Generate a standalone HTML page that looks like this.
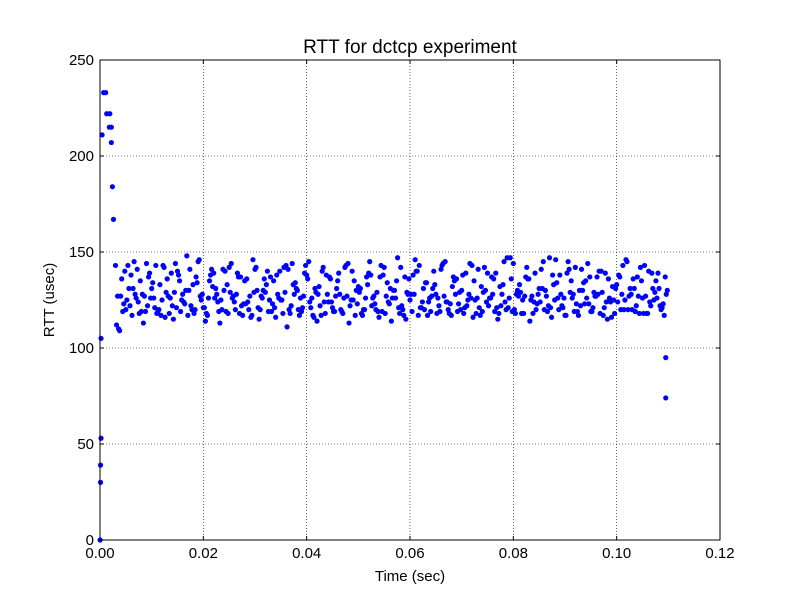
<!DOCTYPE html>
<html><head><meta charset="utf-8"><style>
html,body{margin:0;padding:0;background:#fff;}
svg text{font-family:"Liberation Sans","DejaVu Sans",sans-serif;}
</style></head><body>
<svg id="chart" width="800" height="600" viewBox="0 0 800 600" xmlns="http://www.w3.org/2000/svg">
<rect x="0" y="0" width="800" height="600" fill="#fff"/>
<g id="grid"></g>
<g id="points"></g>
<rect x="100" y="60" width="620" height="480" fill="none" stroke="#000" stroke-width="1"/>
<g id="ticks"></g>
<text x="410" y="53" font-size="19" text-anchor="middle">RTT for dctcp experiment</text>
<text x="410" y="581" font-size="15" text-anchor="middle">Time (sec)</text>
<text x="0" y="0" font-size="15" text-anchor="middle" transform="translate(54,300) rotate(-90)">RTT (usec)</text>
</svg>
<script>
const xTicks=[0,0.02,0.04,0.06,0.08,0.10,0.12];
const xTickLabels=["0.00","0.02","0.04","0.06","0.08","0.10","0.12"];
const yTicks=[0,50,100,150,200,250];
const yTickLabels=["0","50","100","150","200","250"];
const startTimes=[0.00002,0.0001,0.0001,0.0002,0.0002,0.0004,0.0007,0.0011,0.0013,0.0019,0.0018,0.0022,0.0022,0.0024,0.0026];
const startRtt=[0,30,39,53,105,211,233,233,222,222,215,215,207,184,167];
const endTimes=[0.1095,0.1095];
const endRtt=[95,74];
const baseTimes=[];
for(let i=0;i<107;i++){baseTimes.push(+(0.003+i*0.001).toFixed(4));}
const seriesOffsets=[0,0.0002,0.0004,0.0006,0.0008];
const rttA=[143,127,120,138,126,119,144,131,118,125,136,122,140,128,117,133,145,121,126,139,119,130,142,124,118,135,127,141,120,129,137,116,125,143,122,131,119,138,126,114,140,128,121,135,118,144,125,132,120,139,127,116,142,123,130,118,137,125,146,121,134,119,128,141,124,117,136,130,122,143,126,119,139,128,115,133,121,144,127,118,136,124,131,120,147,125,138,117,129,142,122,135,119,127,140,124,116,133,128,145,120,137,126,118,131,139,123];
const rttB=[112,136,125,117,141,128,122,134,119,143,127,115,138,124,130,118,146,121,135,126,113,140,129,120,137,123,116,142,127,133,119,138,125,111,144,130,121,136,117,128,142,124,119,139,126,113,135,129,120,145,123,137,118,131,126,142,115,128,140,121,134,127,118,143,124,132,119,138,125,116,141,129,122,136,118,145,126,120,133,127,114,139,124,130,121,146,128,117,135,123,141,126,119,137,129,115,132,124,143,120,136,127,118,140,125,131,117];
const rttC=[127,119,143,131,124,113,137,126,120,142,118,129,135,123,141,120,127,114,138,131,125,119,144,128,122,136,117,130,126,140,123,128,118,141,133,120,127,145,116,132,124,137,119,128,142,122,117,131,126,138,120,143,127,114,135,122,129,119,140,124,117,131,126,144,120,137,123,118,128,135,121,142,126,119,132,124,147,118,129,137,125,120,141,127,116,134,122,139,126,119,130,144,121,128,117,136,125,138,120,127,131,118,143,124,129,122,137];
const rttD=[110,123,131,145,118,127,139,121,133,116,126,144,119,130,122,137,125,118,141,128,120,133,126,139,117,124,146,121,130,119,135,126,142,120,128,117,139,124,131,122,118,136,127,120,143,125,130,118,137,122,129,119,134,126,147,120,128,138,117,131,124,140,122,127,118,135,129,121,144,125,117,130,126,139,122,120,136,128,118,142,127,123,131,119,138,126,121,145,128,117,134,123,129,140,121,126,118,137,125,131,119,142,127,122,135,120,128];
const rttE=[109,140,122,128,135,119,126,143,117,129,139,121,125,148,120,134,128,117,132,124,141,118,127,137,123,120,129,115,136,125,121,140,129,118,134,126,143,121,129,117,138,124,131,119,127,140,123,117,133,126,119,138,124,130,121,117,136,128,143,120,126,133,119,145,123,128,120,139,126,118,132,124,137,121,128,147,119,130,125,136,118,128,145,122,133,120,126,141,119,130,123,137,127,118,139,124,131,120,146,128,122,135,118,139,126,121,130];

const NS="http://www.w3.org/2000/svg";
const X0=100,X1=720,Y0=540,Y1=60;
function sx(v){return X0+(v-0)/(0.12-0)*(X1-X0);}
function sy(v){return Y0-(v-0)/(250-0)*(Y0-Y1);}
const grid=document.getElementById('grid'),ticks=document.getElementById('ticks'),pts=document.getElementById('points');
function mk(tag,attrs,parent){const e=document.createElementNS(NS,tag);for(const k in attrs)e.setAttribute(k,attrs[k]);parent.appendChild(e);return e;}
xTicks.forEach((t,i)=>{
  const x=sx(t);
  if(i>0&&i<xTicks.length-1){const g=mk('line',{x1:x,x2:x,y1:Y1,y2:Y0,stroke:'#000','stroke-width':0.6,'stroke-dasharray':'1,2'},grid);
  
  }
  mk('line',{x1:x,x2:x,y1:Y0,y2:Y0-4,stroke:'#000'},ticks);
  mk('line',{x1:x,x2:x,y1:Y1,y2:Y1+4,stroke:'#000'},ticks);
  const tx=mk('text',{x:x,y:Y0+18,'font-size':15,'text-anchor':'middle'},ticks);
  tx.textContent=xTickLabels[i];
  
  
});
yTicks.forEach((t,i)=>{
  const y=sy(t);
  if(i>0&&i<yTicks.length-1){const g=mk('line',{x1:X0,x2:X1,y1:y,y2:y,stroke:'#000','stroke-width':0.6,'stroke-dasharray':'1,2'},grid);
  
  }
  mk('line',{x1:X0,x2:X0+4,y1:y,y2:y,stroke:'#000'},ticks);
  mk('line',{x1:X1,x2:X1-4,y1:y,y2:y,stroke:'#000'},ticks);
  const tx=mk('text',{x:X0-6,y:y+5,'font-size':15,'text-anchor':'end'},ticks);
  tx.textContent=yTickLabels[i];
  
  
});
function dot(t,v){
  const c=mk('circle',{cx:sx(t),cy:sy(v),r:2.6,fill:'#0000ff'},pts);
  
  
}
startTimes.forEach((t,i)=>dot(t,startRtt[i]));
[rttA,rttB,rttC,rttD,rttE].forEach((s,si)=>{s.forEach((v,i)=>dot(baseTimes[i]+seriesOffsets[si],v));});
endTimes.forEach((t,i)=>dot(t,endRtt[i]));
</script>
</body></html>
